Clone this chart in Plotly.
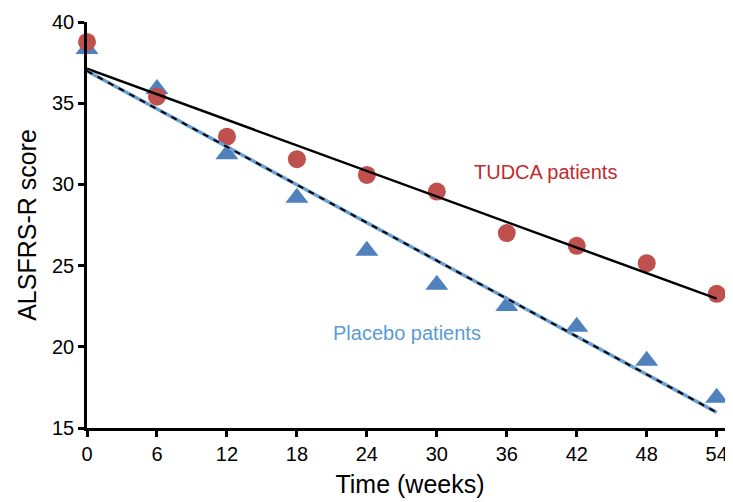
import numpy as np
import plotly.graph_objects as go

weeks = [0, 6, 12, 18, 24, 30, 36, 42, 48, 54]
tudca = [38.77, 35.40, 32.94, 31.55, 30.58, 29.56, 27.00, 26.22, 25.15, 23.26]
placebo = [38.33, 35.87, 31.85, 29.18, 25.92, 23.82, 22.52, 21.24, 19.14, 16.87]
y_ticks = [15, 20, 25, 30, 35, 40]
x_ticks = weeks

FONT = "Liberation Sans, Arial, sans-serif"

def fit(x, y):
    m, c = np.polyfit(x, y, 1)
    xs = np.array([x[0], x[-1]], dtype=float)
    return xs, m * xs + c

tx, ty = fit(weeks, tudca)
px_, py_ = fit(weeks, placebo)

fig = go.Figure()
fig.add_trace(go.Scatter(x=weeks, y=placebo, mode="markers", name="Placebo patients",
                         marker=dict(symbol="triangle-up", size=20, color="#4F81BD"),
                         cliponaxis=False, showlegend=False))
fig.add_trace(go.Scatter(x=weeks, y=tudca, mode="markers", name="TUDCA patients",
                         marker=dict(symbol="circle", size=18, color="#C0504D"),
                         cliponaxis=False, showlegend=False))
fig.add_trace(go.Scatter(x=tx, y=ty, mode="lines", line=dict(color="black", width=2.5),
                         showlegend=False, hoverinfo="skip"))
fig.add_trace(go.Scatter(x=px_, y=py_, mode="lines", line=dict(color="#6A9FD4", width=3.5),
                         showlegend=False, hoverinfo="skip"))
fig.add_trace(go.Scatter(x=px_, y=py_, mode="lines",
                         line=dict(color="black", width=2, dash="6px,6px"),
                         showlegend=False, hoverinfo="skip"))

fig.add_annotation(x=39.3, y=30.77, text="TUDCA patients", showarrow=False,
                   font=dict(family=FONT, size=20, color="#BF2B2E"))
fig.add_annotation(x=27.4, y=20.86, text="Placebo patients", showarrow=False,
                   font=dict(family=FONT, size=20, color="#5B9BD5"))

# page body has an 8px default margin, so the figure is sized/offset to fill the window
fig.update_layout(
    width=725, height=494,
    margin=dict(l=79, r=0, t=14, b=74, autoexpand=False),
    paper_bgcolor="white", plot_bgcolor="white",
    font=dict(family=FONT, color="black"),
)
fig.update_xaxes(range=[0, 55.4], tickvals=x_ticks, ticks="outside", ticklen=6, tickwidth=2.5,
                 tickcolor="black", showline=True, linecolor="black", linewidth=2.5,
                 showgrid=False, zeroline=False, tickfont=dict(size=20), automargin=False,
                 title=dict(text="Time (weeks)", font=dict(size=25), standoff=12))
fig.update_yaxes(range=[15, 40], tickvals=y_ticks, ticks="outside", ticklen=6, tickwidth=2.5,
                 tickcolor="black", showline=True, linecolor="black", linewidth=2.5,
                 showgrid=False, zeroline=False, tickfont=dict(size=20), automargin=False,
                 title=dict(text="ALSFRS-R score", font=dict(size=25), standoff=9))

fig.write_html("out.html")
